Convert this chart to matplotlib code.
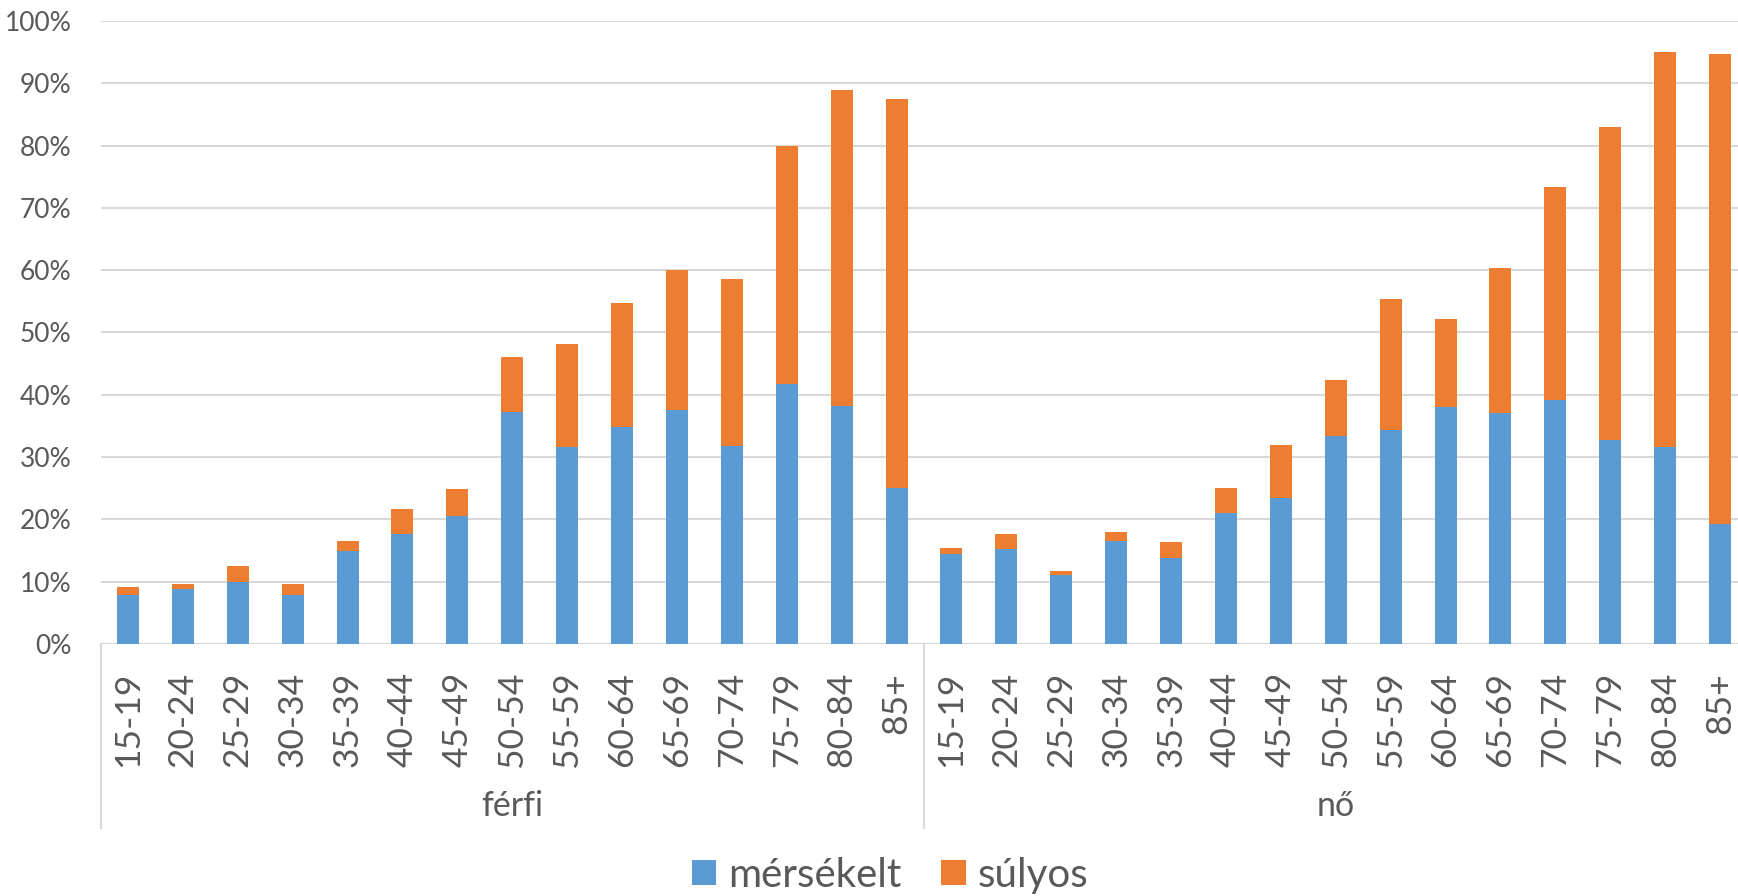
import matplotlib
matplotlib.use("Agg")
import matplotlib.pyplot as plt
from matplotlib.patches import Patch
from matplotlib.lines import Line2D
from matplotlib.transforms import blended_transform_factory
import numpy as np

plt.rcParams['font.family'] = ['Lato', 'DejaVu Sans']

age_groups = ["15-19", "20-24", "25-29", "30-34", "35-39", "40-44", "45-49", "50-54",
              "55-59", "60-64", "65-69", "70-74", "75-79", "80-84", "85+"]
sexes = ["férfi", "nő"]
series_names = ["mérsékelt", "súlyos"]

# totals and moderate part (percent)
ferfi_merseklet = [7.9, 8.8, 10.0, 7.8, 15.0, 17.6, 20.5, 37.2, 31.6, 34.8, 37.5, 31.8, 41.8, 38.2, 25.1]
ferfi_total = [9.1, 9.6, 12.5, 9.7, 16.5, 21.6, 24.9, 46.1, 48.2, 54.7, 60.0, 58.6, 79.9, 89.0, 87.4]
no_merseklet = [14.5, 15.3, 11.0, 16.5, 13.8, 21.1, 23.5, 33.4, 34.3, 38.0, 37.1, 39.1, 32.7, 31.6, 19.3]
no_total = [15.4, 17.6, 11.7, 18.0, 16.4, 25.0, 31.9, 42.3, 55.4, 52.1, 60.4, 73.4, 83.0, 95.1, 94.7]

yticks = [0, 10, 20, 30, 40, 50, 60, 70, 80, 90, 100]

blue = "#5B9BD5"
orange = "#ED7D31"
grid_c = "#D9D9D9"
text_c = "#595959"

W, H = 1738, 896
fig = plt.figure(figsize=(W / 100, H / 100), dpi=100)

left_px, right_px = 100.5, 1738
top_px, bottom_px = 21, 644
slot = 54.9
ax = fig.add_axes([left_px / W, 1 - bottom_px / H, (right_px - left_px) / W, (bottom_px - top_px) / H])

moderate = np.array(ferfi_merseklet + no_merseklet)
total = np.array(ferfi_total + no_total)
severe = total - moderate
labels = age_groups + age_groups
x = np.arange(len(labels))

ax.bar(x, moderate, width=0.4, color=blue, zorder=3)
ax.bar(x, severe, bottom=moderate, width=0.4, color=orange, zorder=3)

ax.set_xlim(-0.5, -0.5 + (right_px - left_px) / slot)
ax.set_ylim(0, 100)
ax.set_yticks(yticks)
ax.set_yticklabels([f"{v}%" for v in yticks])
ax.yaxis.grid(True, color=grid_c, linewidth=1.5, zorder=0)
ax.set_axisbelow(True)
for s in ax.spines.values():
    s.set_visible(False)
ax.tick_params(axis='y', length=0, pad=21, labelsize=19, labelcolor=text_c)
ax.set_xticks(x)
ax.set_xticklabels(labels, rotation=90)
ax.tick_params(axis='x', length=0, pad=20, labelsize=25.5, labelcolor=text_c)

# baseline
ax.axhline(0, color=grid_c, linewidth=1.5, zorder=2)

# group separators
sep_bottom = 1 - 828 / H
sep_top = 1 - 644 / H
trans = blended_transform_factory(ax.transData, fig.transFigure)
for xs in [-0.5, 14.5, 29.5]:
    fig.add_artist(Line2D([xs, xs], [sep_bottom, sep_top], transform=trans,
                          color=grid_c, linewidth=1.5, clip_on=False))

for i, sx in enumerate(sexes):
    ax.text(7 + 15 * i, 1 - 806 / H, sx, transform=trans, ha='center', va='center',
            fontsize=24.5, color=text_c)

handles = [Patch(facecolor=blue, label=series_names[0]), Patch(facecolor=orange, label=series_names[1])]
fig.legend(handles=handles, loc='center', bbox_to_anchor=(890 / W, 1 - 875 / H), ncol=2,
           frameon=False, fontsize=29, labelcolor=text_c, handlelength=0.6, handleheight=0.6,
           handletextpad=0.3, columnspacing=1.0, borderpad=0.1)

fig.savefig("out.png", dpi=100)
